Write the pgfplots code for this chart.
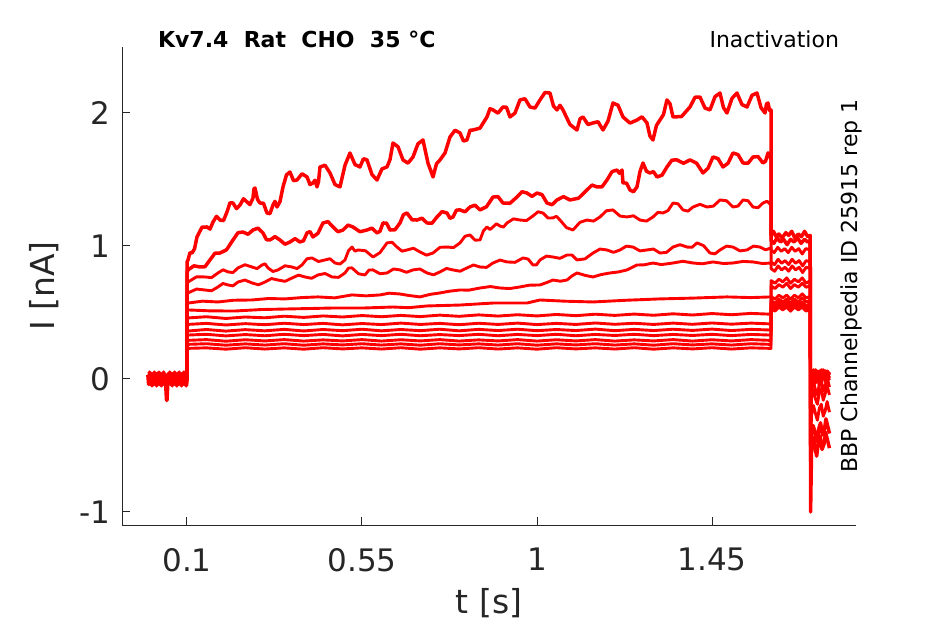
\documentclass[border=0pt]{standalone}
\usepackage{fontspec}
\setmainfont{DejaVu Sans}
\usepackage{pgfplots}
\pgfplotsset{compat=1.18}
\definecolor{axgray}{HTML}{262626}
\begin{document}
\begin{tikzpicture}
\begin{axis}[name=ax, at={(0,0)}, anchor=south west,
  scale only axis, width=367pt, height=239pt,
  xmin=-0.0671, xmax=1.8203, ymin=-1.098, ymax=2.496,
  axis x line=bottom, axis y line=left,
  axis line style={-, draw=axgray, line width=0.5pt},
  tick align=inside, major tick length=3.8pt,
  tick style={draw=axgray, line width=0.5pt},
  xtick={0.1,0.55,1,1.45}, xticklabels={0.1,0.55,1,1.45},
  ytick={-1,0,1,2}, yticklabels={-1,0,1,2},
  /pgf/number format/assume math mode=true,
  ticklabel style={font=\fontsize{15.5}{18}\selectfont, text=axgray},
  xticklabel style={yshift=-8pt},
  yticklabel style={xshift=-2.5pt},
  tr/.style={red, line width=1.45pt, line join=round, mark=none},
  trb/.style={red, line width=1.75pt, line join=round, mark=none},
  clip=false,
]
% baseline before the step
\addplot[red, line width=2pt, line join=round] coordinates {(0,0.03)(0.002,-0.04)(0.004,0.05)(0.006,-0.03)(0.008,0.04)(0.010,-0.05)(0.012,0.03)(0.014,-0.04)(0.016,0.05)(0.018,-0.03)(0.020,0.04)(0.022,-0.05)(0.024,0.04)(0.026,-0.03)(0.028,0.05)(0.030,-0.04)(0.032,0.03)(0.034,-0.05)(0.036,0.04)(0.038,-0.03)(0.040,0.05)(0.042,-0.04)(0.044,0.03)(0.046,-0.05)(0.048,-0.16)(0.050,-0.04)(0.052,0.04)(0.054,-0.03)(0.056,0.05)(0.058,-0.04)(0.060,0.03)(0.062,-0.05)(0.064,0.04)(0.066,-0.03)(0.068,0.05)(0.070,-0.04)(0.072,0.03)(0.074,-0.05)(0.076,0.04)(0.078,-0.03)(0.080,0.05)(0.082,-0.04)(0.084,0.03)(0.086,-0.05)(0.088,0.04)(0.090,-0.03)(0.092,0.05)(0.094,-0.04)(0.096,0.03)(0.098,-0.05)(0.100,0.0)};
% T1
\addplot[trb] coordinates {(0.1,0)(0.1001,0.88)(0.1026,0.895)(0.1078,0.950)(0.1129,0.947)(0.1193,0.978)(0.1257,1.068)(0.1386,1.141)(0.1514,1.143)(0.1592,1.127)(0.1669,1.180)(0.1759,1.223)(0.1849,1.195)(0.1939,1.191)(0.2029,1.256)(0.2106,1.325)(0.2183,1.323)(0.2273,1.281)(0.2363,1.308)(0.2453,1.355)(0.2543,1.331)(0.2620,1.311)(0.2697,1.361)(0.2723,1.429)(0.2749,1.436)(0.2813,1.350)(0.2877,1.323)(0.2967,1.321)(0.3057,1.248)(0.3134,1.243)(0.3211,1.308)(0.3263,1.336)(0.3314,1.293)(0.3392,1.334)(0.3469,1.444)(0.3559,1.535)(0.3649,1.556)(0.3739,1.491)(0.3829,1.496)(0.3958,1.543)(0.4086,1.519)(0.4163,1.462)(0.4240,1.474)(0.4292,1.494)(0.4343,1.444)(0.4382,1.484)(0.4420,1.594)(0.4549,1.607)(0.4677,1.549)(0.4806,1.462)(0.4934,1.444)(0.5063,1.607)(0.5191,1.699)(0.5320,1.612)(0.5448,1.594)(0.5538,1.656)(0.5628,1.647)(0.5757,1.537)(0.5886,1.496)(0.6015,1.580)(0.6143,1.594)(0.6220,1.649)(0.6297,1.774)(0.6426,1.746)(0.6554,1.647)(0.6683,1.623)(0.6811,1.669)(0.6940,1.768)(0.7068,1.797)(0.7197,1.623)(0.7326,1.519)(0.7416,1.618)(0.7506,1.647)(0.7635,1.699)(0.7763,1.820)(0.7892,1.870)(0.8020,1.850)(0.8110,1.789)(0.8200,1.797)(0.8277,1.870)(0.8354,1.872)(0.8534,1.886)(0.8714,1.970)(0.8791,2.032)(0.8868,2.023)(0.8997,1.999)(0.9125,2.045)(0.9215,2.043)(0.9305,1.970)(0.9434,1.999)(0.9562,2.098)(0.9691,2.107)(0.9820,2.045)(0.9949,2.037)(1.0077,2.098)(1.0206,2.154)(1.0334,2.150)(1.0424,2.052)(1.0514,2.023)(1.0591,2.058)(1.0668,2.023)(1.0848,1.913)(1.1028,1.872)(1.1106,1.956)(1.1183,1.970)(1.1312,1.913)(1.1440,1.925)(1.1569,1.934)(1.1697,1.872)(1.1826,1.939)(1.1954,2.075)(1.2083,2.058)(1.2211,1.970)(1.2391,1.924)(1.2571,1.947)(1.2700,1.971)(1.2828,1.925)(1.2905,1.826)(1.2982,1.797)(1.3072,1.907)(1.3162,1.947)(1.3252,1.988)(1.3342,2.098)(1.3420,2.069)(1.3497,1.970)(1.3716,1.973)(1.3934,2.045)(1.4063,2.118)(1.4191,2.120)(1.4320,2.037)(1.4448,2.023)(1.4577,2.122)(1.4705,2.150)(1.4795,2.040)(1.4885,2.000)(1.5014,2.110)(1.5142,2.150)(1.5271,2.063)(1.5400,2.045)(1.5529,2.133)(1.5657,2.150)(1.5760,2.040)(1.5863,2.000)(1.5902,2.068)(1.5940,2.075)(1.5979,2.019)(1.6017,2.023)
(1.6020,1.08)(1.608,1.11)(1.615,1.07)(1.622,1.09)(1.630,1.06)(1.640,1.10)(1.647,1.08)(1.655,1.11)(1.663,1.06)(1.672,1.09)(1.680,1.07)(1.688,1.11)(1.696,1.07)(1.7025,1.08)(1.7035,-1.00)(1.706,-0.52)(1.710,-0.44)(1.714,-0.50)(1.719,-0.58)(1.724,-0.47)(1.728,-0.43)(1.733,-0.53)(1.738,-0.49)(1.742,-0.40)(1.747,-0.46)(1.752,-0.52)};
% T2
\addplot[trb] coordinates {(0.1,0)(0.1001,0.80)(0.1026,0.820)(0.1180,0.851)(0.1334,0.842)(0.1463,0.844)(0.1591,0.895)(0.1720,0.946)(0.1849,0.947)(0.2016,0.971)(0.2183,1.045)(0.2312,1.100)(0.2440,1.105)(0.2569,1.088)(0.2697,1.120)(0.2826,1.134)(0.2954,1.098)(0.3044,1.047)(0.3134,1.045)(0.3263,1.070)(0.3391,1.045)(0.3520,1.013)(0.3649,1.030)(0.3778,1.055)(0.3906,1.030)(0.3996,1.039)(0.4086,1.098)(0.4163,1.108)(0.4240,1.068)(0.4369,1.096)(0.4497,1.173)(0.4626,1.183)(0.4754,1.143)(0.4883,1.107)(0.5011,1.120)(0.5140,1.157)(0.5268,1.143)(0.5448,1.107)(0.5628,1.120)(0.5757,1.134)(0.5886,1.098)(0.5963,1.111)(0.6040,1.173)(0.6130,1.172)(0.6220,1.120)(0.6349,1.122)(0.6477,1.173)(0.6567,1.236)(0.6657,1.248)(0.6786,1.197)(0.6914,1.195)(0.7043,1.209)(0.7171,1.173)(0.7300,1.171)(0.7428,1.218)(0.7557,1.258)(0.7686,1.248)(0.7763,1.208)(0.7840,1.218)(0.7930,1.270)(0.8020,1.271)(0.8149,1.257)(0.8277,1.293)(0.8406,1.307)(0.8534,1.271)(0.8701,1.295)(0.8868,1.368)(0.8997,1.371)(0.9125,1.323)(0.9305,1.321)(0.9485,1.368)(0.9614,1.408)(0.9742,1.398)(0.9871,1.373)(1.0000,1.398)(1.0129,1.386)(1.0257,1.323)(1.0386,1.310)(1.0514,1.346)(1.0681,1.371)(1.0848,1.346)(1.1067,1.359)(1.1285,1.421)(1.1414,1.458)(1.1543,1.444)(1.1672,1.445)(1.1800,1.496)(1.1929,1.559)(1.2057,1.571)(1.2122,1.546)(1.2186,1.571)(1.2211,1.474)(1.2301,1.473)(1.2391,1.421)(1.2481,1.408)(1.2571,1.444)(1.2648,1.559)(1.2725,1.624)(1.2815,1.562)(1.2905,1.549)(1.2995,1.559)(1.3085,1.519)(1.3214,1.532)(1.3342,1.594)(1.3471,1.646)(1.3599,1.647)(1.3767,1.622)(1.3934,1.647)(1.4101,1.623)(1.4268,1.549)(1.4397,1.584)(1.4525,1.669)(1.4654,1.657)(1.4782,1.594)(1.4911,1.622)(1.5040,1.699)(1.5169,1.687)(1.5297,1.624)(1.5426,1.622)(1.5554,1.669)(1.5683,1.672)(1.5811,1.624)(1.5876,1.637)(1.5940,1.699)(1.5979,1.693)(1.6017,1.647)
(1.6020,1.04)(1.609,1.02)(1.617,1.06)(1.626,1.03)(1.634,1.05)(1.643,1.01)(1.652,1.05)(1.661,1.03)(1.670,1.06)(1.679,1.02)(1.688,1.05)(1.696,1.03)(1.7025,1.04)(1.7035,-0.62)(1.706,-0.42)(1.710,-0.35)(1.715,-0.40)(1.720,-0.47)(1.725,-0.37)(1.729,-0.33)(1.734,-0.42)(1.739,-0.38)(1.743,-0.30)(1.748,-0.36)(1.752,-0.41)};
% T3
\addplot[tr] coordinates {(0.1,0)(0.1001,0.71)(0.1026,0.729)(0.1245,0.768)(0.1463,0.767)(0.1630,0.762)(0.1797,0.797)(0.1926,0.821)(0.2054,0.805)(0.2183,0.800)(0.2311,0.835)(0.2491,0.859)(0.2671,0.842)(0.2800,0.830)(0.2929,0.857)(0.3006,0.866)(0.3083,0.835)(0.3212,0.808)(0.3340,0.820)(0.3520,0.851)(0.3700,0.842)(0.3829,0.830)(0.3957,0.857)(0.4086,0.904)(0.4214,0.910)(0.4382,0.883)(0.4549,0.895)(0.4678,0.904)(0.4806,0.872)(0.4935,0.864)(0.5063,0.895)(0.5153,0.964)(0.5243,0.992)(0.5320,0.961)(0.5397,0.970)(0.5590,0.964)(0.5783,0.917)(0.5963,0.950)(0.6143,1.023)(0.6272,1.028)(0.6400,0.992)(0.6529,0.961)(0.6657,0.970)(0.6824,0.983)(0.6991,0.955)(0.7159,0.931)(0.7326,0.947)(0.7506,0.990)(0.7686,0.992)(0.7853,0.988)(0.8020,1.023)(0.8149,1.073)(0.8277,1.083)(0.8406,1.044)(0.8534,1.045)(0.8624,1.114)(0.8714,1.143)(0.8791,1.123)(0.8868,1.143)(0.8958,1.167)(0.9048,1.150)(0.9138,1.142)(0.9228,1.173)(0.9395,1.204)(0.9562,1.195)(0.9730,1.191)(0.9897,1.226)(1.0026,1.257)(1.0154,1.248)(1.0283,1.210)(1.0411,1.211)(1.0501,1.223)(1.0591,1.195)(1.0758,1.138)(1.0925,1.120)(1.1105,1.178)(1.1285,1.195)(1.1453,1.187)(1.1620,1.218)(1.1787,1.265)(1.1954,1.271)(1.2134,1.225)(1.2314,1.218)(1.2481,1.227)(1.2648,1.195)(1.2815,1.187)(1.2982,1.218)(1.3111,1.253)(1.3239,1.248)(1.3368,1.266)(1.3497,1.323)(1.3626,1.317)(1.3754,1.271)(1.3883,1.262)(1.4011,1.293)(1.4191,1.313)(1.4371,1.293)(1.4538,1.300)(1.4705,1.346)(1.4873,1.340)(1.5040,1.293)(1.5169,1.300)(1.5297,1.346)(1.5426,1.340)(1.5554,1.293)(1.5683,1.288)(1.5811,1.323)(1.5914,1.336)(1.6017,1.308)
(1.6020,0.97)(1.610,0.95)(1.619,0.99)(1.628,0.96)(1.637,0.98)(1.646,0.95)(1.655,0.99)(1.664,0.96)(1.673,0.98)(1.682,0.94)(1.691,0.98)(1.7025,0.97)(1.7035,-0.45)(1.706,-0.27)(1.711,-0.20)(1.716,-0.26)(1.721,-0.31)(1.726,-0.22)(1.731,-0.19)(1.736,-0.28)(1.741,-0.24)(1.746,-0.17)(1.752,-0.25)};
% T4
\addplot[tr] coordinates {(0.1,0)(0.1001,0.63)(0.1026,0.647)(0.1245,0.676)(0.1463,0.669)(0.1630,0.663)(0.1797,0.692)(0.1926,0.718)(0.2054,0.707)(0.2183,0.700)(0.2311,0.729)(0.2491,0.744)(0.2671,0.722)(0.2839,0.708)(0.3006,0.729)(0.3173,0.755)(0.3340,0.744)(0.3520,0.734)(0.3700,0.759)(0.3867,0.781)(0.4034,0.767)(0.4202,0.757)(0.4369,0.782)(0.4549,0.793)(0.4729,0.767)(0.4896,0.764)(0.5063,0.797)(0.5153,0.834)(0.5243,0.835)(0.5410,0.791)(0.5577,0.782)(0.5680,0.819)(0.5783,0.820)(0.5963,0.791)(0.6143,0.797)(0.6310,0.827)(0.6477,0.820)(0.6644,0.802)(0.6811,0.820)(0.6991,0.827)(0.7171,0.797)(0.7339,0.783)(0.7506,0.805)(0.7673,0.831)(0.7840,0.820)(0.8020,0.810)(0.8200,0.835)(0.8367,0.857)(0.8534,0.842)(0.8701,0.839)(0.8868,0.872)(0.9048,0.894)(0.9228,0.880)(0.9434,0.877)(0.9640,0.910)(0.9769,0.902)(0.9897,0.857)(0.9987,0.858)(1.0077,0.895)(1.0244,0.924)(1.0411,0.917)(1.0591,0.907)(1.0771,0.932)(1.0900,0.932)(1.1028,0.895)(1.1234,0.903)(1.1440,0.947)(1.1620,0.977)(1.1800,0.970)(1.1967,0.952)(1.2134,0.970)(1.2301,0.999)(1.2468,0.992)(1.2648,0.963)(1.2828,0.970)(1.2995,0.977)(1.3162,0.947)(1.3330,0.952)(1.3497,0.992)(1.3677,1.010)(1.3857,0.992)(1.3986,0.990)(1.4114,1.023)(1.4281,1.003)(1.4448,0.947)(1.4577,0.941)(1.4705,0.970)(1.4873,0.999)(1.5040,0.992)(1.5220,0.963)(1.5400,0.970)(1.5567,0.999)(1.5734,0.992)(1.5876,0.971)(1.6017,0.985)
(1.6020,0.88)(1.611,0.86)(1.620,0.90)(1.629,0.87)(1.638,0.89)(1.647,0.86)(1.656,0.90)(1.665,0.87)(1.674,0.89)(1.683,0.85)(1.692,0.89)(1.7025,0.88)(1.7035,-0.32)(1.706,-0.14)(1.711,-0.08)(1.716,-0.15)(1.721,-0.19)(1.726,-0.10)(1.731,-0.07)(1.736,-0.16)(1.741,-0.11)(1.746,-0.05)(1.752,-0.12)};
% T5
\addplot[tr] coordinates {(0.1,0)(0.1001,0.56)(0.1026,0.571)(0.1400,0.585)(0.1797,0.579)(0.2200,0.592)(0.2671,0.594)(0.3100,0.605)(0.3520,0.602)(0.3950,0.612)(0.4369,0.617)(0.4800,0.610)(0.5243,0.632)(0.5600,0.625)(0.5963,0.632)(0.6200,0.645)(0.6477,0.639)(0.6700,0.628)(0.6991,0.617)(0.7250,0.636)(0.7506,0.647)(0.7750,0.660)(0.8020,0.669)(0.8250,0.668)(0.8534,0.684)(0.8800,0.695)(0.9048,0.684)(0.9300,0.680)(0.9562,0.692)(0.9800,0.705)(1.0077,0.707)(1.0250,0.725)(1.0411,0.744)(1.0600,0.735)(1.0771,0.744)(1.0900,0.775)(1.1028,0.797)(1.1250,0.778)(1.1440,0.767)(1.1650,0.785)(1.1877,0.797)(1.2100,0.805)(1.2314,0.820)(1.2450,0.840)(1.2571,0.857)(1.2750,0.858)(1.2982,0.872)(1.3200,0.860)(1.3497,0.872)(1.3750,0.885)(1.4011,0.872)(1.4250,0.866)(1.4525,0.880)(1.4800,0.868)(1.5040,0.872)(1.5300,0.884)(1.5554,0.880)(1.5800,0.868)(1.6017,0.872)
(1.6020,0.83)(1.611,0.81)(1.620,0.85)(1.629,0.82)(1.638,0.84)(1.647,0.81)(1.656,0.85)(1.665,0.82)(1.674,0.84)(1.683,0.80)(1.692,0.84)(1.7025,0.83)(1.7035,-0.25)(1.706,-0.07)(1.711,-0.02)(1.716,-0.08)(1.721,-0.12)(1.726,-0.04)(1.731,-0.01)(1.736,-0.09)(1.741,-0.05)(1.746,0.01)(1.752,-0.06)};
% T6
\addplot[tr] coordinates {(0.1,0)(0.1001,0.51)(0.1026,0.519)(0.1600,0.512)(0.2234,0.511)(0.2900,0.522)(0.3520,0.526)(0.4200,0.530)(0.4806,0.534)(0.5577,0.534)(0.6297,0.541)(0.6700,0.536)(0.7171,0.549)(0.8020,0.556)(0.8868,0.571)(0.9742,0.571)(1.0077,0.594)(1.0700,0.585)(1.1440,0.579)(1.2300,0.592)(1.3162,0.602)(1.4000,0.608)(1.4885,0.617)(1.5500,0.612)(1.6017,0.617)
(1.6020,0.74)(1.612,0.72)(1.622,0.75)(1.632,0.73)(1.642,0.76)(1.652,0.72)(1.662,0.75)(1.672,0.73)(1.682,0.76)(1.692,0.72)(1.7025,0.74)(1.7035,-0.20)(1.706,-0.02)(1.711,0.03)(1.716,-0.03)(1.721,0.01)(1.726,-0.05)(1.731,0.02)(1.736,0.05)(1.741,-0.02)(1.746,0.03)(1.752,-0.01)};
% T7
\addplot[tr] coordinates {(0.1,0)(0.1001,0.45)(0.1026,0.459)(0.15,0.468)(0.20,0.455)(0.25,0.466)(0.30,0.460)(0.35,0.472)(0.40,0.463)(0.45,0.474)(0.50,0.466)(0.55,0.477)(0.60,0.468)(0.65,0.478)(0.70,0.469)(0.75,0.480)(0.80,0.471)(0.85,0.482)(0.90,0.473)(0.95,0.483)(1.00,0.474)(1.05,0.485)(1.10,0.476)(1.15,0.487)(1.20,0.478)(1.25,0.488)(1.30,0.479)(1.35,0.490)(1.40,0.481)(1.45,0.492)(1.50,0.483)(1.55,0.493)(1.6017,0.487)
(1.6020,0.70)(1.612,0.68)(1.622,0.71)(1.632,0.69)(1.642,0.72)(1.652,0.68)(1.662,0.71)(1.672,0.69)(1.682,0.72)(1.692,0.69)(1.7025,0.70)(1.7035,-0.15)(1.706,0.02)(1.711,-0.04)(1.716,0.03)(1.721,-0.02)(1.726,0.04)(1.731,-0.03)(1.736,0.02)(1.741,0.05)(1.746,-0.02)(1.752,0.02)};
% T8
\addplot[tr] coordinates {(0.1,0)(0.1001,0.41)(0.15,0.418)(0.20,0.406)(0.25,0.416)(0.30,0.408)(0.35,0.419)(0.40,0.409)(0.45,0.418)(0.50,0.407)(0.55,0.417)(0.60,0.409)(0.65,0.420)(0.70,0.410)(0.75,0.418)(0.80,0.408)(0.85,0.419)(0.90,0.410)(0.95,0.420)(1.00,0.409)(1.05,0.418)(1.10,0.410)(1.15,0.421)(1.20,0.411)(1.25,0.419)(1.30,0.410)(1.35,0.420)(1.40,0.411)(1.45,0.421)(1.50,0.412)(1.55,0.420)(1.6017,0.414)
(1.6020,0.62)(1.612,0.60)(1.622,0.63)(1.632,0.61)(1.642,0.63)(1.652,0.60)(1.662,0.63)(1.672,0.61)(1.682,0.64)(1.692,0.61)(1.7025,0.62)(1.7035,-0.12)(1.706,0.03)(1.711,-0.02)(1.716,0.04)(1.721,-0.01)(1.726,0.05)(1.731,0.00)(1.736,0.04)(1.741,-0.01)(1.746,0.05)(1.752,0.01)};
% T9
\addplot[tr] coordinates {(0.1,0)(0.1001,0.36)(0.15,0.372)(0.20,0.360)(0.25,0.371)(0.30,0.362)(0.35,0.373)(0.40,0.361)(0.45,0.372)(0.50,0.363)(0.55,0.374)(0.60,0.362)(0.65,0.372)(0.70,0.363)(0.75,0.374)(0.80,0.362)(0.85,0.373)(0.90,0.364)(0.95,0.374)(1.00,0.363)(1.05,0.372)(1.10,0.364)(1.15,0.375)(1.20,0.363)(1.25,0.373)(1.30,0.364)(1.35,0.374)(1.40,0.365)(1.45,0.375)(1.50,0.364)(1.55,0.373)(1.6017,0.368)
(1.6020,0.59)(1.612,0.57)(1.622,0.60)(1.632,0.58)(1.642,0.60)(1.652,0.57)(1.662,0.60)(1.672,0.58)(1.682,0.61)(1.692,0.58)(1.7025,0.59)(1.7035,-0.10)(1.706,0.05)(1.711,0.00)(1.716,0.06)(1.721,0.01)(1.726,0.05)(1.731,-0.01)(1.736,0.04)(1.741,0.06)(1.746,0.00)(1.752,0.05)};
% T10
\addplot[tr] coordinates {(0.1,0)(0.1001,0.33)(0.15,0.336)(0.20,0.324)(0.25,0.334)(0.30,0.325)(0.35,0.336)(0.40,0.326)(0.45,0.335)(0.50,0.324)(0.55,0.335)(0.60,0.326)(0.65,0.336)(0.70,0.325)(0.75,0.334)(0.80,0.326)(0.85,0.336)(0.90,0.325)(0.95,0.335)(1.00,0.326)(1.05,0.336)(1.10,0.325)(1.15,0.335)(1.20,0.327)(1.25,0.336)(1.30,0.326)(1.35,0.335)(1.40,0.327)(1.45,0.336)(1.50,0.326)(1.55,0.335)(1.6017,0.330)
(1.6020,0.57)(1.612,0.55)(1.622,0.58)(1.632,0.56)(1.642,0.58)(1.652,0.55)(1.662,0.58)(1.672,0.56)(1.682,0.58)(1.692,0.55)(1.7025,0.57)(1.7035,-0.08)(1.706,0.02)(1.711,0.06)(1.716,0.01)(1.721,0.05)(1.726,0.00)(1.731,0.05)(1.736,0.01)(1.741,0.06)(1.746,0.02)(1.752,0.04)};
% T11
\addplot[tr] coordinates {(0.1,0)(0.1001,0.29)(0.15,0.296)(0.20,0.284)(0.25,0.295)(0.30,0.286)(0.35,0.296)(0.40,0.285)(0.45,0.294)(0.50,0.286)(0.55,0.296)(0.60,0.285)(0.65,0.295)(0.70,0.286)(0.75,0.296)(0.80,0.285)(0.85,0.294)(0.90,0.286)(0.95,0.296)(1.00,0.285)(1.05,0.295)(1.10,0.286)(1.15,0.296)(1.20,0.285)(1.25,0.294)(1.30,0.286)(1.35,0.296)(1.40,0.285)(1.45,0.295)(1.50,0.286)(1.55,0.296)(1.6017,0.290)
(1.6020,0.55)(1.612,0.53)(1.622,0.56)(1.632,0.54)(1.642,0.56)(1.652,0.53)(1.662,0.56)(1.672,0.54)(1.682,0.56)(1.692,0.53)(1.7025,0.55)(1.7035,-0.06)(1.706,0.04)(1.711,0.00)(1.716,0.05)(1.721,0.02)(1.726,0.06)(1.731,0.01)(1.736,0.05)(1.741,0.02)(1.746,0.06)(1.752,0.03)};
% T12
\addplot[tr] coordinates {(0.1,0)(0.1001,0.26)(0.15,0.265)(0.20,0.254)(0.25,0.264)(0.30,0.255)(0.35,0.265)(0.40,0.254)(0.45,0.264)(0.50,0.256)(0.55,0.265)(0.60,0.255)(0.65,0.264)(0.70,0.254)(0.75,0.265)(0.80,0.256)(0.85,0.264)(0.90,0.255)(0.95,0.265)(1.00,0.254)(1.05,0.264)(1.10,0.256)(1.15,0.265)(1.20,0.255)(1.25,0.264)(1.30,0.254)(1.35,0.265)(1.40,0.256)(1.45,0.264)(1.50,0.255)(1.55,0.265)(1.6017,0.260)
(1.6020,0.54)(1.612,0.52)(1.622,0.55)(1.632,0.53)(1.642,0.55)(1.652,0.52)(1.662,0.55)(1.672,0.53)(1.682,0.55)(1.692,0.52)(1.7025,0.54)(1.7035,-0.05)(1.706,0.06)(1.711,0.02)(1.716,0.07)(1.721,0.03)(1.726,0.06)(1.731,0.02)(1.736,0.07)(1.741,0.03)(1.746,0.06)(1.752,0.04)};
% T13
\addplot[tr] coordinates {(0.1,0)(0.1001,0.23)(0.15,0.234)(0.20,0.224)(0.25,0.235)(0.30,0.225)(0.35,0.234)(0.40,0.224)(0.45,0.235)(0.50,0.226)(0.55,0.234)(0.60,0.225)(0.65,0.235)(0.70,0.224)(0.75,0.234)(0.80,0.226)(0.85,0.235)(0.90,0.225)(0.95,0.234)(1.00,0.224)(1.05,0.235)(1.10,0.226)(1.15,0.234)(1.20,0.225)(1.25,0.235)(1.30,0.224)(1.35,0.234)(1.40,0.226)(1.45,0.235)(1.50,0.225)(1.55,0.234)(1.6017,0.230)
(1.6020,0.53)(1.612,0.51)(1.622,0.54)(1.632,0.52)(1.642,0.54)(1.652,0.51)(1.662,0.54)(1.672,0.52)(1.682,0.54)(1.692,0.51)(1.7025,0.53)(1.7035,-0.04)(1.706,0.03)(1.711,0.07)(1.716,0.02)(1.721,0.06)(1.726,0.01)(1.731,0.07)(1.736,0.03)(1.741,0.06)(1.746,0.02)(1.752,0.05)};
\end{axis}
\node[anchor=base west, font=\fontsize{11}{13}\selectfont\bfseries, text=black] at ([xshift=14.5pt, yshift=-0.5pt]ax.north west) {Kv7.4\ \ Rat\ \ CHO\ \ 35 °C};
\node[anchor=base east, font=\fontsize{11}{13}\selectfont, text=black] at ([xshift=-5pt, yshift=-0.5pt]ax.north east) {Inactivation};
\node[anchor=base, rotate=90, font=\fontsize{11}{13}\selectfont, text=black] at ([xshift=0.5pt]ax.east) {BBP Channelpedia ID 25915 rep 1};
\node[anchor=base, font=\fontsize{16.5}{19}\selectfont, text=axgray] at ([yshift=-44pt]ax.south) {t [s]};
\node[anchor=base, rotate=90, font=\fontsize{16.5}{19}\selectfont, text=axgray] at ([xshift=-33.5pt]ax.west) {I [nA]};
\path[use as bounding box] ([xshift=-61pt, yshift=-49.5pt]ax.south west) rectangle ([xshift=44.5pt, yshift=23.5pt]ax.north east);
\end{tikzpicture}
\end{document}
